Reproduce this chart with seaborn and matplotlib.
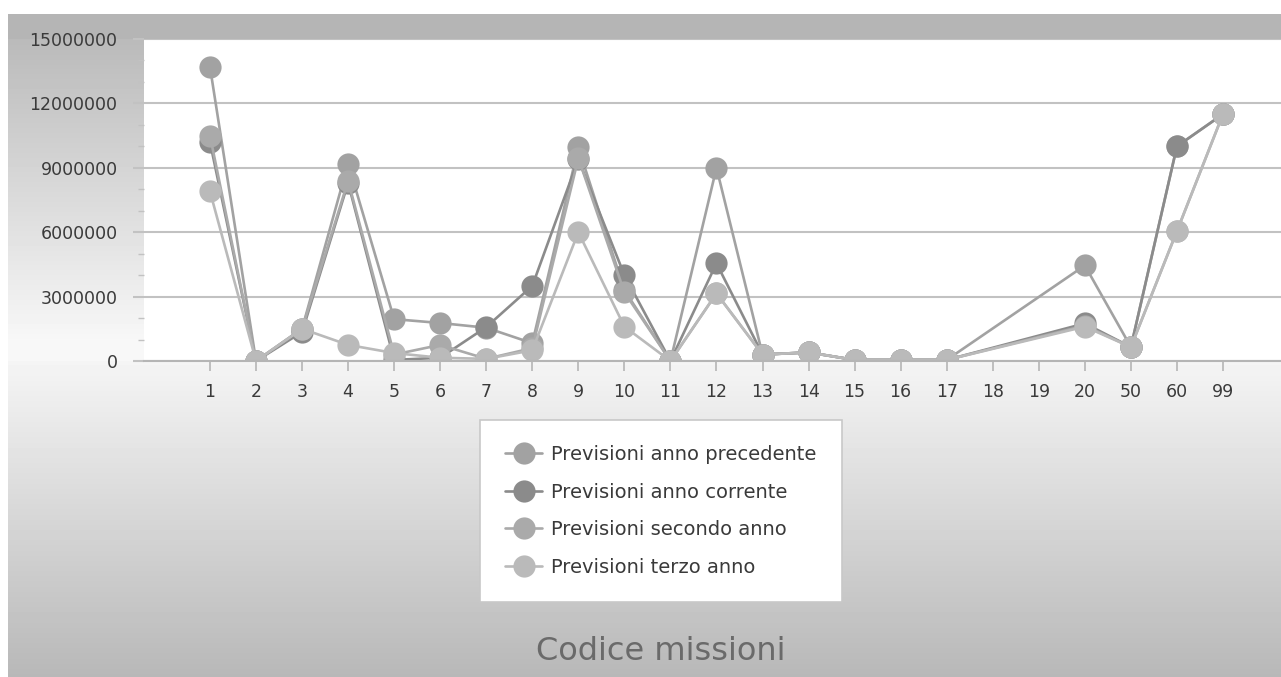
import numpy as np
import pandas as pd
import matplotlib
matplotlib.use("Agg")
import matplotlib.pyplot as plt
import seaborn as sns

# ---- data ----
categories = ["1", "2", "3", "4", "5", "6", "7", "8", "9", "10", "11", "12",
              "13", "14", "15", "16", "17", "18", "19", "20", "50", "60", "99"]
nan = np.nan
prev_anno_precedente = [13700000, 0, 1500000, 9200000, 1950000, 1770000, 1550000, 830000,
                        9950000, 3300000, 0, 9000000, 300000, 400000, 50000, 50000, 50000,
                        nan, nan, 4450000, 650000, 10000000, 11500000]
prev_anno_corrente = [10200000, 0, 1350000, 8300000, 50000, 150000, 1580000, 3500000,
                      9400000, 4000000, 0, 4550000, 300000, 400000, 50000, 50000, 50000,
                      nan, nan, 1750000, 650000, 10000000, 11500000]
prev_secondo_anno = [10500000, 0, 1500000, 8400000, 300000, 750000, 100000, 600000,
                     9450000, 3200000, 0, 3150000, 300000, 400000, 50000, 50000, 50000,
                     nan, nan, 1650000, 650000, 6050000, 11500000]
prev_terzo_anno = [7900000, 0, 1500000, 750000, 370000, 150000, 100000, 500000,
                   6000000, 1600000, 0, 3150000, 300000, 400000, 50000, 50000, 50000,
                   nan, nan, 1600000, 650000, 6050000, 11500000]
series_names = ["Previsioni anno precedente", "Previsioni anno corrente",
                "Previsioni secondo anno", "Previsioni terzo anno"]
y_ticks = [0, 3000000, 6000000, 9000000, 12000000, 15000000]
x_title = "Codice missioni"

rows = []
for name, vals in zip(series_names, [prev_anno_precedente, prev_anno_corrente,
                                     prev_secondo_anno, prev_terzo_anno]):
    for i, v in enumerate(vals):
        rows.append({"pos": i, "valore": v, "serie": name})
df = pd.DataFrame(rows).dropna()

palette = {series_names[0]: "#a2a2a2", series_names[1]: "#8b8b8b",
           series_names[2]: "#aaaaaa", series_names[3]: "#bababa"}

W, H = 1281, 677
fig = plt.figure(figsize=(W / 100, H / 100), dpi=100)

# ---- background gradient ----
prof = np.ones(H)
yy = np.arange(H)
prof[(yy >= 14) & (yy < 39)] = 0.71
m = (yy >= 39) & (yy < 361)
prof[m] = np.clip(0.73 + (yy[m] - 39) / (340 - 39) * (0.97 - 0.73), 0, 0.97)
m = yy >= 361
prof[m] = 0.96 - (yy[m] - 361) / (677 - 361) * (0.96 - 0.72)
bgarr = np.tile(prof[:, None], (1, W))
bgarr[:, :8] = 1.0
bgarr[:14, :] = 1.0
bg = fig.add_axes([0, 0, 1, 1], zorder=-10)
bg.imshow(bgarr, cmap="gray", vmin=0, vmax=1, aspect="auto",
          extent=(0, 1, 0, 1), interpolation="bilinear")
bg.axis("off")

sns.set_style("white")
plt.rcParams["font.family"] = ["DejaVu Sans"]

ax = fig.add_axes([144 / W, 1 - 361 / H, 1 - 144 / W, (361 - 39) / H])
ax.set_facecolor("white")

sns.lineplot(data=df, x="pos", y="valore", hue="serie", hue_order=series_names,
             palette=palette, marker="o", markersize=16, markeredgewidth=0,
             linewidth=1.9, ax=ax, legend=True, sort=True)

ax.set_xlim(-1.433, 23.26)
ax.set_ylim(0, 15000000)
ax.set_xticks(range(len(categories)))
ax.set_xticklabels(categories)
ax.set_yticks(y_ticks)
ax.set_yticklabels([str(t) for t in y_ticks])
ax.set_yticks(np.arange(0, 15000001, 1000000), minor=True)
ax.set_xlabel("")
ax.set_ylabel("")

ax.grid(axis="y", which="major", color="#c2c2c2", linewidth=1.5)
ax.grid(axis="x", visible=False)
for s in ["left", "right", "top"]:
    ax.spines[s].set_visible(False)
ax.spines["bottom"].set_color("#b5b5b5")
ax.spines["bottom"].set_linewidth(1.5)
ax.set_axisbelow(True)

ax.tick_params(axis="y", which="major", length=8, width=1.5, color="#c2c2c2",
               pad=11, labelsize=12.5, labelcolor="#3a3a3a", left=True)
ax.tick_params(axis="y", which="minor", length=4.5, width=1, color="#c2c2c2", left=True)
ax.tick_params(axis="x", which="major", length=7, width=1.2, color="#b5b5b5",
               pad=9, labelsize=12.5, labelcolor="#3a3a3a", bottom=True)

handles, labels = ax.get_legend_handles_labels()
ax.get_legend().remove()
leg = fig.legend(handles, labels, loc="upper center",
                 bbox_to_anchor=(661 / W, 1 - 420 / H), frameon=True,
                 fancybox=False, edgecolor="#c8c8c8", facecolor="white",
                 framealpha=1, fontsize=14, handlelength=1.9,
                 handletextpad=0.46, labelspacing=0.95, borderpad=1.3,
                 borderaxespad=0)
for t in leg.get_texts():
    t.set_color("#3a3a3a")
leg.get_frame().set_linewidth(1.2)

fig.text(661 / W, 1 - 651 / H, x_title, ha="center", va="center",
         fontsize=23, color="#6a6a6a")

fig.savefig("out.png", dpi=100)
